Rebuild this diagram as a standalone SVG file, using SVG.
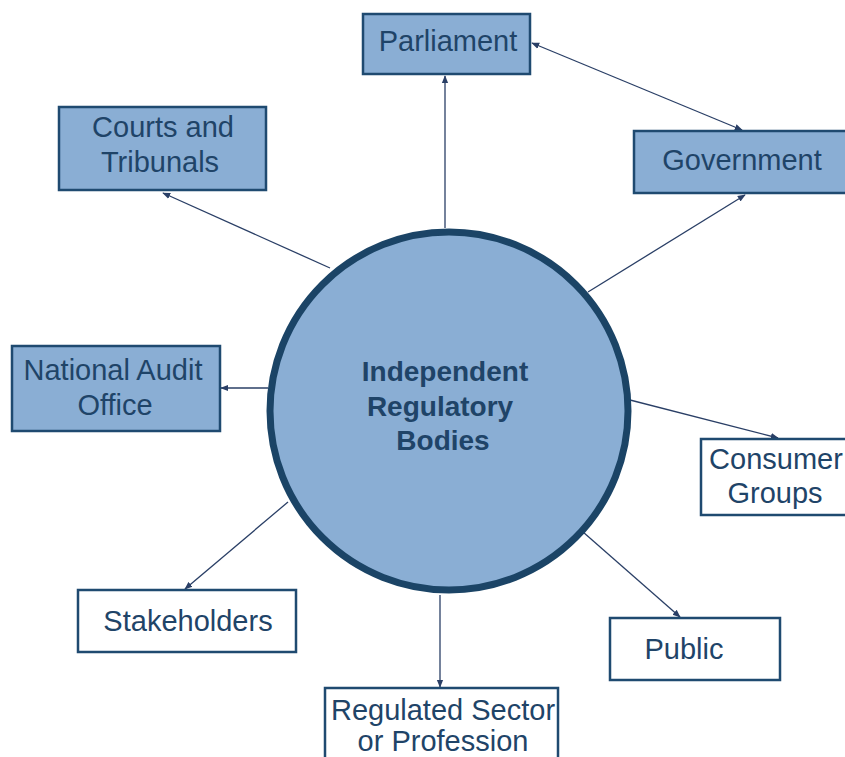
<svg xmlns="http://www.w3.org/2000/svg" width="845" height="757" viewBox="0 0 845 757">
<style>
.f{fill:#8aaed4;stroke:#1f4a70;stroke-width:2.5}
.w{fill:#ffffff;stroke:#1f4a70;stroke-width:2.5}
text{font-family:"Liberation Sans",Arial,sans-serif;font-size:29px;fill:#1f4468;text-anchor:middle}
.b{font-weight:bold;font-size:28px}
.c{stroke:#2a3f66;stroke-width:1.3;fill:none;marker-end:url(#a)}
</style>
<defs>
<marker id="a" viewBox="0 0 10 10" refX="9" refY="5" markerWidth="8" markerHeight="8" markerUnits="userSpaceOnUse" orient="auto-start-reverse">
<path d="M0,1 L10,5 L0,9 z" fill="#2a3f66"/>
</marker>
</defs>
<g id="connectors">
<line class="c" x1="445" y1="228" x2="445" y2="76"/>
<line class="c" x1="532" y1="43" x2="742" y2="130" marker-start="url(#a)"/>
<line class="c" x1="588" y1="292" x2="745" y2="195"/>
<line class="c" x1="330" y1="268" x2="163" y2="193"/>
<line class="c" x1="268" y1="388" x2="221" y2="388"/>
<line class="c" x1="630" y1="400" x2="778" y2="438"/>
<line class="c" x1="583" y1="532" x2="680" y2="617"/>
<line class="c" x1="440" y1="595" x2="440" y2="687"/>
<line class="c" x1="288" y1="502" x2="185" y2="589"/>
</g>
<g id="center">
<circle cx="449" cy="411" r="179" fill="#8aaed4" stroke="#1b4466" stroke-width="7"/>
<text class="b" x="445" y="381">Independent</text>
<text class="b" x="440" y="416">Regulatory</text>
<text class="b" x="443" y="450">Bodies</text>
</g>
<g id="parliament">
<rect class="f" x="363" y="14" width="167" height="60"/>
<text x="448" y="51">Parliament</text>
</g>
<g id="government">
<rect class="f" x="634" y="131" width="215" height="62"/>
<text x="742" y="170">Government</text>
</g>
<g id="courts">
<rect class="f" x="59" y="107" width="207" height="83"/>
<text x="163" y="137">Courts and</text>
<text x="160" y="172">Tribunals</text>
</g>
<g id="nao">
<rect class="f" x="12" y="346" width="208" height="85"/>
<text x="113" y="380">National Audit</text>
<text x="115" y="415">Office</text>
</g>
<g id="consumer">
<rect class="w" x="701" y="439" width="150" height="76"/>
<text x="776" y="469">Consumer</text>
<text x="775" y="503">Groups</text>
</g>
<g id="stakeholders">
<rect class="w" x="78" y="590" width="218" height="62"/>
<text x="188" y="631">Stakeholders</text>
</g>
<g id="public">
<rect class="w" x="610" y="618" width="170" height="62"/>
<text x="684" y="659">Public</text>
</g>
<g id="regulated">
<rect class="w" x="325" y="688" width="233" height="80"/>
<text x="443" y="720">Regulated Sector</text>
<text x="443" y="751">or Profession</text>
</g>
</svg>
